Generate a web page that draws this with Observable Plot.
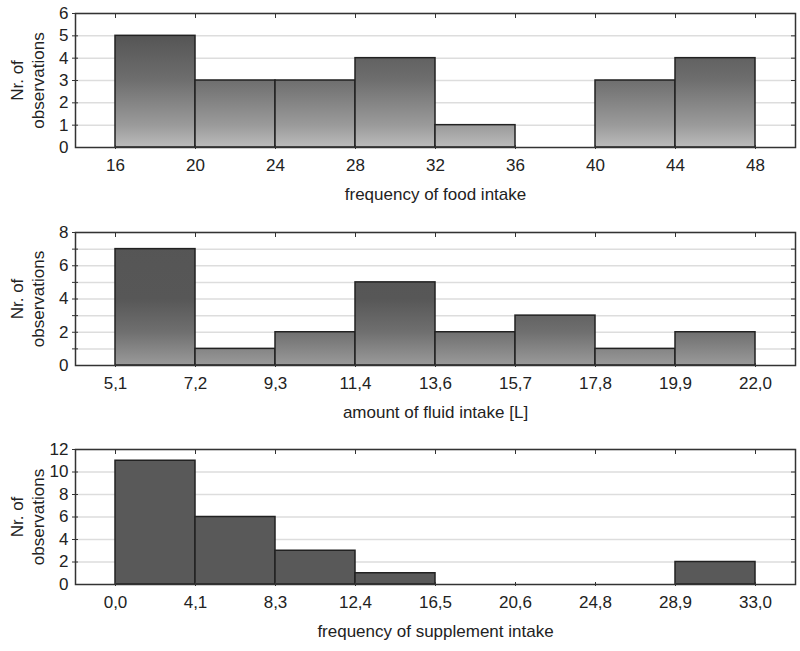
<!DOCTYPE html>
<html>
<head>
<meta charset="utf-8">
<script src="https://cdn.jsdelivr.net/npm/d3@7"></script>
<script src="https://cdn.jsdelivr.net/npm/@observablehq/plot@0.6"></script>
<style>
  html, body { margin: 0; padding: 0; background: #fff; }
  #chart svg { display: block; }
</style>
</head>
<body>
<div id="chart"></div>
<script>
// ---- Data ----
const foodLabels = ["16", "20", "24", "28", "32", "36", "40", "44", "48"];
const foodCounts = [5, 3, 3, 4, 1, 0, 3, 4];

const fluidLabels = ["5,1", "7,2", "9,3", "11,4", "13,6", "15,7", "17,8", "19,9", "22,0"];
const fluidCounts = [7, 1, 2, 5, 2, 3, 1, 2];

const suppLabels = ["0,0", "4,1", "8,3", "12,4", "16,5", "20,6", "24,8", "28,9", "33,0"];
const suppCounts = [11, 6, 3, 1, 0, 0, 0, 2];

const yTitle = "Nr. of\nobservations";

const panels = [
  {id: "g1", title: "frequency of food intake", labels: foodLabels, counts: foodCounts,
   ymax: 6, yLabelTicks: [0,1,2,3,4,5,6], grid: [1,2,3,4,5,6],
   stops: [[6, "#444"], [5, "#555"], [3, "#6e6e6e"], [1, "#9a9a9a"], [0, "#bbb"]],
   height: 215, marginTop: 13, marginBottom: 68},
  {id: "g2", title: "amount of fluid intake [L]", labels: fluidLabels, counts: fluidCounts,
   ymax: 8, yLabelTicks: [0,2,4,6,8], grid: [1,2,3,4,5,6,7,8],
   stops: [[8, "#555"], [4, "#575757"], [2, "#6f6f6f"], [0, "#9a9a9a"]],
   height: 215, marginTop: 17, marginBottom: 65},
  {id: "g3", title: "frequency of supplement intake", labels: suppLabels, counts: suppCounts,
   ymax: 12, yLabelTicks: [0,2,4,6,8,10,12], grid: [2,4,6,8,10,12],
   stops: [[12, "#595959"], [0, "#595959"]],
   height: 221, marginTop: 19, marginBottom: 67}
];

const container = document.getElementById("chart");

for (const p of panels) {
  const bins = p.counts.map((c, i) => ({x1: i, x2: i + 1, y: c}));
  const edges = p.labels.map((_, i) => i);

  const gradientMark = (index, scales) => {
    const defs = d3.create("svg:defs");
    const g = defs.append("linearGradient")
      .attr("id", p.id)
      .attr("gradientUnits", "userSpaceOnUse")
      .attr("x1", 0).attr("x2", 0)
      .attr("y1", scales.y(p.ymax)).attr("y2", scales.y(0));
    for (const [v, c] of p.stops) {
      g.append("stop").attr("offset", (p.ymax - v) / p.ymax).attr("stop-color", c);
    }
    return defs.node();
  };

  const plot = Plot.plot({
    width: 800,
    height: p.height,
    marginLeft: 75,
    marginRight: 5,
    marginTop: p.marginTop,
    marginBottom: p.marginBottom,
    style: {fontFamily: "'Liberation Sans', Arial, sans-serif", fontSize: "17px", color: "#222", background: "#fff"},
    x: {domain: [-0.5, edges.length - 0.5]},
    y: {domain: [0, p.ymax]},
    marks: [
      gradientMark,
      Plot.ruleY(p.grid, {stroke: "#ddd", strokeWidth: 1.5}),
      Plot.rectY(bins, {x1: "x1", x2: "x2", y: "y", fill: `url(#${p.id})`, stroke: "#222", strokeWidth: 1.5}),
      Plot.frame({stroke: "#333", strokeWidth: 1.5}),
      // y tick labels
      Plot.axisY({ticks: p.yLabelTicks, tickSize: 0, tickPadding: 7, tickFormat: d => String(d), label: null, fontSize: 17}),
      // left tick marks crossing the frame
      Plot.axisY({ticks: p.grid, tickSize: 6, dx: 3, text: null, label: null, stroke: "#333"}),
      // right tick marks inside
      Plot.axisY({anchor: "right", ticks: p.grid, tickSize: 5, dx: -5, text: null, label: null, stroke: "#333"}),
      // x tick labels
      Plot.axisX({ticks: edges, tickSize: 0, tickPadding: 11, tickFormat: i => p.labels[i], label: null, fontSize: 17}),
      // bottom tick marks
      Plot.axisX({ticks: edges, tickSize: 4, dy: -2, text: null, label: null, stroke: "#333"}),
      // top tick marks inside
      Plot.axisX({anchor: "top", ticks: edges, tickSize: 4, dy: 4, text: null, label: null, stroke: "#333"}),
      // x title
      Plot.text([p.title], {frameAnchor: "bottom", dy: 52, fontSize: 17, fill: "#222"}),
      // y title
      Plot.text([yTitle], {frameAnchor: "left", textAnchor: "middle", dx: -49, rotate: -90, fontSize: 17, lineHeight: 1.25, fill: "#222"})
    ]
  });
  container.appendChild(plot);
}
</script>
</body>
</html>
